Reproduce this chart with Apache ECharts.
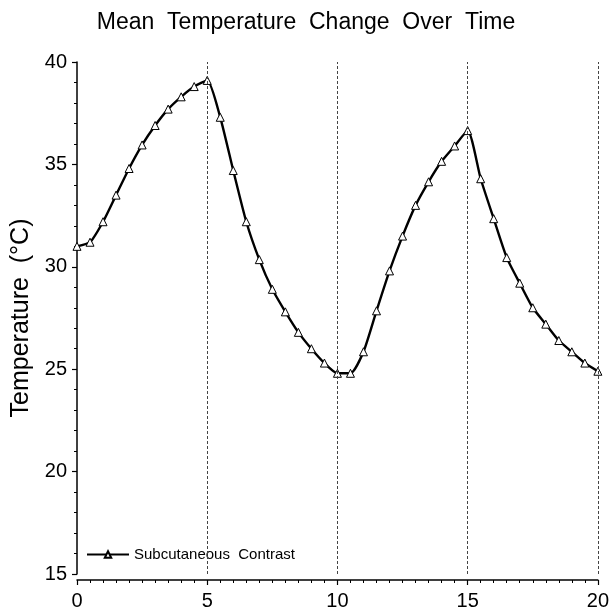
<!DOCTYPE html>
<html>
<head>
<meta charset="utf-8">
<script src="https://cdn.jsdelivr.net/npm/echarts@6/dist/echarts.min.js"></script>
<style>
html,body{margin:0;padding:0;background:#fff;}
#chart{width:612px;height:612px;}
</style>
</head>
<body>
<div id="chart"></div>
<script>
// time points (every half unit)
var times = [0,0.5,1,1.5,2,2.5,3,3.5,4,4.5,5,5.5,6,6.5,7,7.5,8,8.5,9,9.5,10,
             10.5,11,11.5,12,12.5,13,13.5,14,14.5,15,15.5,16,16.5,17,17.5,18,18.5,19,19.5,20];
// mean temperature
var temps = [31.0,31.2,32.2,33.5,34.8,35.95,36.9,37.7,38.3,38.8,39.1,37.3,34.7,32.2,30.35,28.9,27.8,26.8,26.0,25.3,24.8,
             24.8,25.85,27.85,29.8,31.5,33.0,34.15,35.15,35.9,36.65,34.3,32.35,30.45,29.2,28.0,27.2,26.4,25.85,25.3,24.9];
var refLines = [5,10,15,20];
var seriesName = 'Subcutaneous  Contrast';

var myChart = echarts.init(document.getElementById('chart'));

var font = '"Liberation Sans", Arial, Helvetica, sans-serif';

var option = {
  animation: false,
  title: {
    text: 'Mean  Temperature  Change  Over  Time',
    left: 'center',
    top: 6,
    textStyle: { fontFamily: font, fontSize: 23, fontWeight: 'normal', color: '#000' }
  },
  legend: {
    left: 81,
    top: 542,
    itemWidth: 42,
    itemHeight: 8,
    data: [seriesName],
    textStyle: { fontFamily: font, fontSize: 15, color: '#000' }
  },
  grid: { left: 77, right: 11, top: 62, bottom: 38 },
  xAxis: {
    type: 'value',
    min: 0,
    max: 20,
    interval: 5,
    offset: 6,
    axisLine: { lineStyle: { color: '#000', width: 1.5 } },
    axisTick: { length: 5, lineStyle: { color: '#000', width: 1.2 } },
    minorTick: { show: true, splitNumber: 10, length: 3, lineStyle: { color: '#000', width: 1 } },
    axisLabel: { fontFamily: font, fontSize: 20, color: '#000', margin: 11 },
    splitLine: { show: false }
  },
  yAxis: {
    type: 'value',
    min: 15,
    max: 40,
    interval: 5,
    offset: 4,
    name: 'Temperature  (°C)',
    nameLocation: 'middle',
    nameGap: 37,
    nameTextStyle: { fontFamily: font, fontSize: 25, color: '#000' },
    axisLine: { show: true, lineStyle: { color: '#000', width: 1.5 } },
    axisTick: { show: true, length: 5, lineStyle: { color: '#000', width: 1.2 } },
    minorTick: { show: true, splitNumber: 5, length: 3, lineStyle: { color: '#000', width: 1 } },
    axisLabel: { fontFamily: font, fontSize: 20, color: '#000', margin: 6 },
    splitLine: { show: false }
  },
  series: [{
    name: seriesName,
    type: 'line',
    smooth: 0.2,
    symbol: 'triangle',
    symbolSize: 8,
    data: times.map(function (t, i) { return [t, temps[i]]; }),
    lineStyle: { color: '#000', width: 2.4 },
    itemStyle: { color: '#fff', borderColor: '#000', borderWidth: 1 },
    markLine: {
      silent: true,
      symbol: 'none',
      label: { show: false },
      lineStyle: { color: '#444', width: 1, type: [3, 2] },
      data: refLines.map(function (v) { return { xAxis: v }; })
    }
  }]
};

myChart.setOption(option);
</script>
</body>
</html>
